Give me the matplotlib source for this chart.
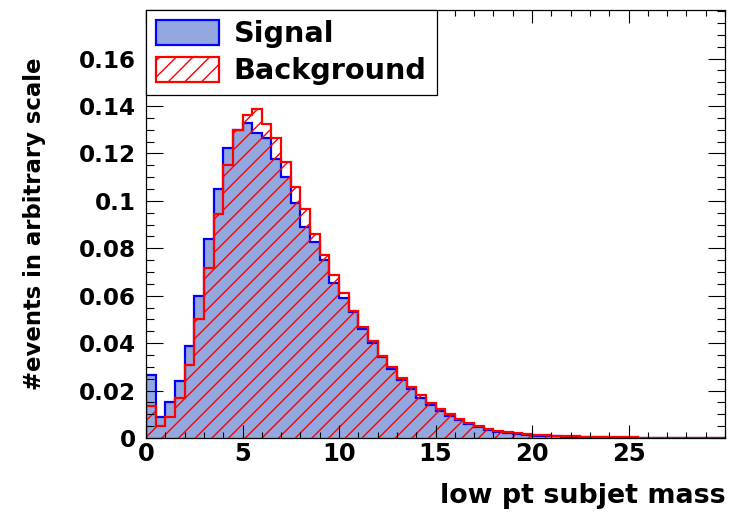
import numpy as np
import matplotlib.pyplot as plt
from matplotlib.ticker import MultipleLocator
from matplotlib.patches import Patch

plt.rcParams['font.family'] = 'DejaVu Sans'
plt.rcParams['font.weight'] = 'bold'
plt.rcParams['hatch.linewidth'] = 1.0

# bin edges: 60 bins of 0.5 between 0 and 30
edges = np.linspace(0, 30, 61)

signal = [0.0265, 0.009, 0.015, 0.024, 0.039, 0.060, 0.084, 0.105, 0.1225, 0.130,
          0.133, 0.1285, 0.1265, 0.1175, 0.110, 0.099, 0.089, 0.0827, 0.0752, 0.0654,
          0.059, 0.0532, 0.0459, 0.0401, 0.034, 0.029, 0.0245, 0.0205, 0.017, 0.0138,
          0.0112, 0.0092, 0.0074, 0.0058, 0.0046, 0.0034, 0.0026, 0.002, 0.0016, 0.0013,
          0.001, 0.0008, 0.0007, 0.0006, 0.0005, 0.0004, 0.0003, 0.0003, 0.0002, 0.0002,
          0.0002, 0.0001, 0.0001, 0.0001, 0.0001, 0.0001, 0.0, 0.0, 0.0, 0.0]

background = [0.0135, 0.005, 0.009, 0.017, 0.0306, 0.050, 0.0717, 0.0946, 0.115, 0.130,
              0.1364, 0.1387, 0.1325, 0.1265, 0.1166, 0.1058, 0.0966, 0.0859, 0.077, 0.0689,
              0.0613, 0.0536, 0.0469, 0.0408, 0.0345, 0.030, 0.0254, 0.0216, 0.0181, 0.0146,
              0.0121, 0.010, 0.0081, 0.0065, 0.0052, 0.0038, 0.003, 0.0024, 0.002, 0.0017,
              0.0014, 0.0012, 0.001, 0.0008, 0.0007, 0.0006, 0.0005, 0.0004, 0.0004, 0.0003,
              0.0003, 0.0002, 0.0002, 0.0002, 0.0002, 0.0001, 0.0001, 0.0001, 0.0001, 0.0001]

ytick_vals = [0, 0.02, 0.04, 0.06, 0.08, 0.1, 0.12, 0.14, 0.16]
ytick_labels = ['0', '0.02', '0.04', '0.06', '0.08', '0.1', '0.12', '0.14', '0.16']
xtick_vals = [0, 5, 10, 15, 20, 25]

sig_fill = '#93a8de'

fig = plt.figure(figsize=(7.31, 5.15), dpi=100)
ax = fig.add_axes([146/731, 1-438/515, (725-146)/731, (438-10)/515])

ax.stairs(signal, edges, fill=True, facecolor=sig_fill, edgecolor='none')
ax.stairs(signal, edges, color='#0000ff', linewidth=1.6)
ax.stairs(background, edges, fill=True, facecolor='none', edgecolor='#ff0000',
          hatch='//', linewidth=0)
ax.stairs(background, edges, color='#ff0000', linewidth=1.6)

ax.set_xlim(0, 30)
ax.set_ylim(0, 0.1805)

ax.xaxis.set_minor_locator(MultipleLocator(1))
ax.yaxis.set_minor_locator(MultipleLocator(0.005))
ax.set_yticks(ytick_vals)
ax.set_yticklabels(ytick_labels)
ax.set_xticks(xtick_vals)

ax.tick_params(axis='both', which='both', direction='in', top=True, right=True,
               width=0.8, colors='black')
ax.tick_params(axis='x', which='major', length=9.2, pad=3, labelsize=17.5)
ax.tick_params(axis='x', which='minor', length=4.6)
ax.tick_params(axis='y', which='major', length=12.3, pad=7.5, labelsize=16.6)
ax.tick_params(axis='y', which='minor', length=6.1)
for s in ax.spines.values():
    s.set_linewidth(0.9)

handles = [Patch(facecolor=sig_fill, edgecolor='#0000ff', linewidth=1.6, label='Signal'),
           Patch(facecolor='white', edgecolor='#ff0000', hatch='//', linewidth=1.6,
                 label='Background')]
leg = ax.legend(handles=handles, loc='upper left', bbox_to_anchor=(0, 1),
                borderaxespad=0, fancybox=False, framealpha=1, edgecolor='black',
                prop={'weight': 'bold', 'size': 20.7}, handlelength=2.2,
                handleheight=0.95, handletextpad=0.5, borderpad=0.35, labelspacing=0.3)
leg.get_frame().set_linewidth(0.9)

fig.text(35/731, 1-57/515, '#events in arbitrary scale', rotation=90,
         ha='center', va='top', fontsize=16.4, fontweight='bold')
fig.text(726/731, 1-503/515, 'low pt subjet mass', ha='right', va='baseline',
         fontsize=19.4, fontweight='bold')

fig.savefig('out.png', dpi=100)
